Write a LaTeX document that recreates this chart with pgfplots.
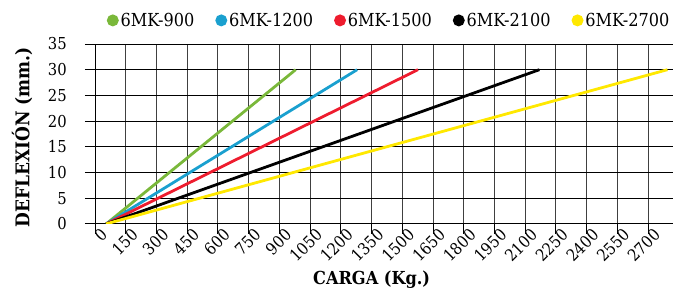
\documentclass[border=0pt]{standalone}
\usepackage{fontspec}
\setmainfont{DejaVu Serif Condensed}
\usepackage{pgfplots}
\pgfplotsset{compat=1.18}
\definecolor{cgreen}{HTML}{7AB83A}
\definecolor{cblue}{HTML}{1AA0CF}
\definecolor{cred}{HTML}{EE1C2E}
\definecolor{cyell}{HTML}{FFE800}
\begin{document}
\begin{tikzpicture}
\begin{axis}[
  at={(0,0)}, anchor=origin,
  scale only axis, width=578bp, height=180bp,
  xmin=0, xmax=2820, ymin=0, ymax=35,
  axis lines=left, axis line style={-, black, line width=0.8bp},
  xtick={0,150,...,2700}, ytick={0,5,...,35},
  grid=major, y grid style={black, line width=0.8bp},
  x grid style={black!75, line width=0.8bp},
  tick align=outside, major tick length=10bp,
  tick style={black, line width=0.8bp},
  /pgf/number format/assume math mode=true,
  /pgf/number format/1000 sep={},
  xticklabel={\fontsize{16.5}{16.5}\selectfont\pgfmathprintnumber{\tick}},
  yticklabel={\fontsize{16.5}{16.5}\selectfont\pgfmathprintnumber{\tick}},
  xticklabel style={rotate=45, anchor=east, inner sep=1bp, xshift=9bp, yshift=-5bp},
  yticklabel style={inner sep=1bp, xshift=-17bp},
  xlabel={\textbf{CARGA (Kg.)}},
  ylabel={\textbf{DEFLEXIÓN (mm.)}},
  xlabel style={font=\fontsize{18}{18}\selectfont, at={(axis description cs:0.479,0)}, anchor=center, yshift=-56bp},
  ylabel style={font=\fontsize{19}{19}\selectfont, at={(axis description cs:-0.1263,0.48)}, anchor=center},
  legend columns=5,
  legend style={draw=none, fill=none, at={(1,1)}, anchor=south east, yshift=14bp, xshift=-1bp,
    font=\fontsize{18}{18}\selectfont, inner sep=0pt,
    /tikz/every even column/.append style={column sep=19bp}},
  legend image code/.code={\fill[#1] (0.3em,0) circle (4.5bp);},
  every axis plot/.append style={line width=2.8bp},
]
\addplot[cgreen] coordinates {(55,0) (980,30)};
\addlegendentry{6MK-900}
\addplot[cblue] coordinates {(55,0) (1280,30)};
\addlegendentry{6MK-1200}
\addplot[cred] coordinates {(55,0) (1577,30)};
\addlegendentry{6MK-1500}
\addplot[black] coordinates {(55,0) (2170,30)};
\addlegendentry{6MK-2100}
\addplot[cyell] coordinates {(55,0) (2795,30)};
\addlegendentry{6MK-2700}
\end{axis}
\useasboundingbox (-95bp,-69bp) rectangle (578bp,224bp);
\end{tikzpicture}
\end{document}
